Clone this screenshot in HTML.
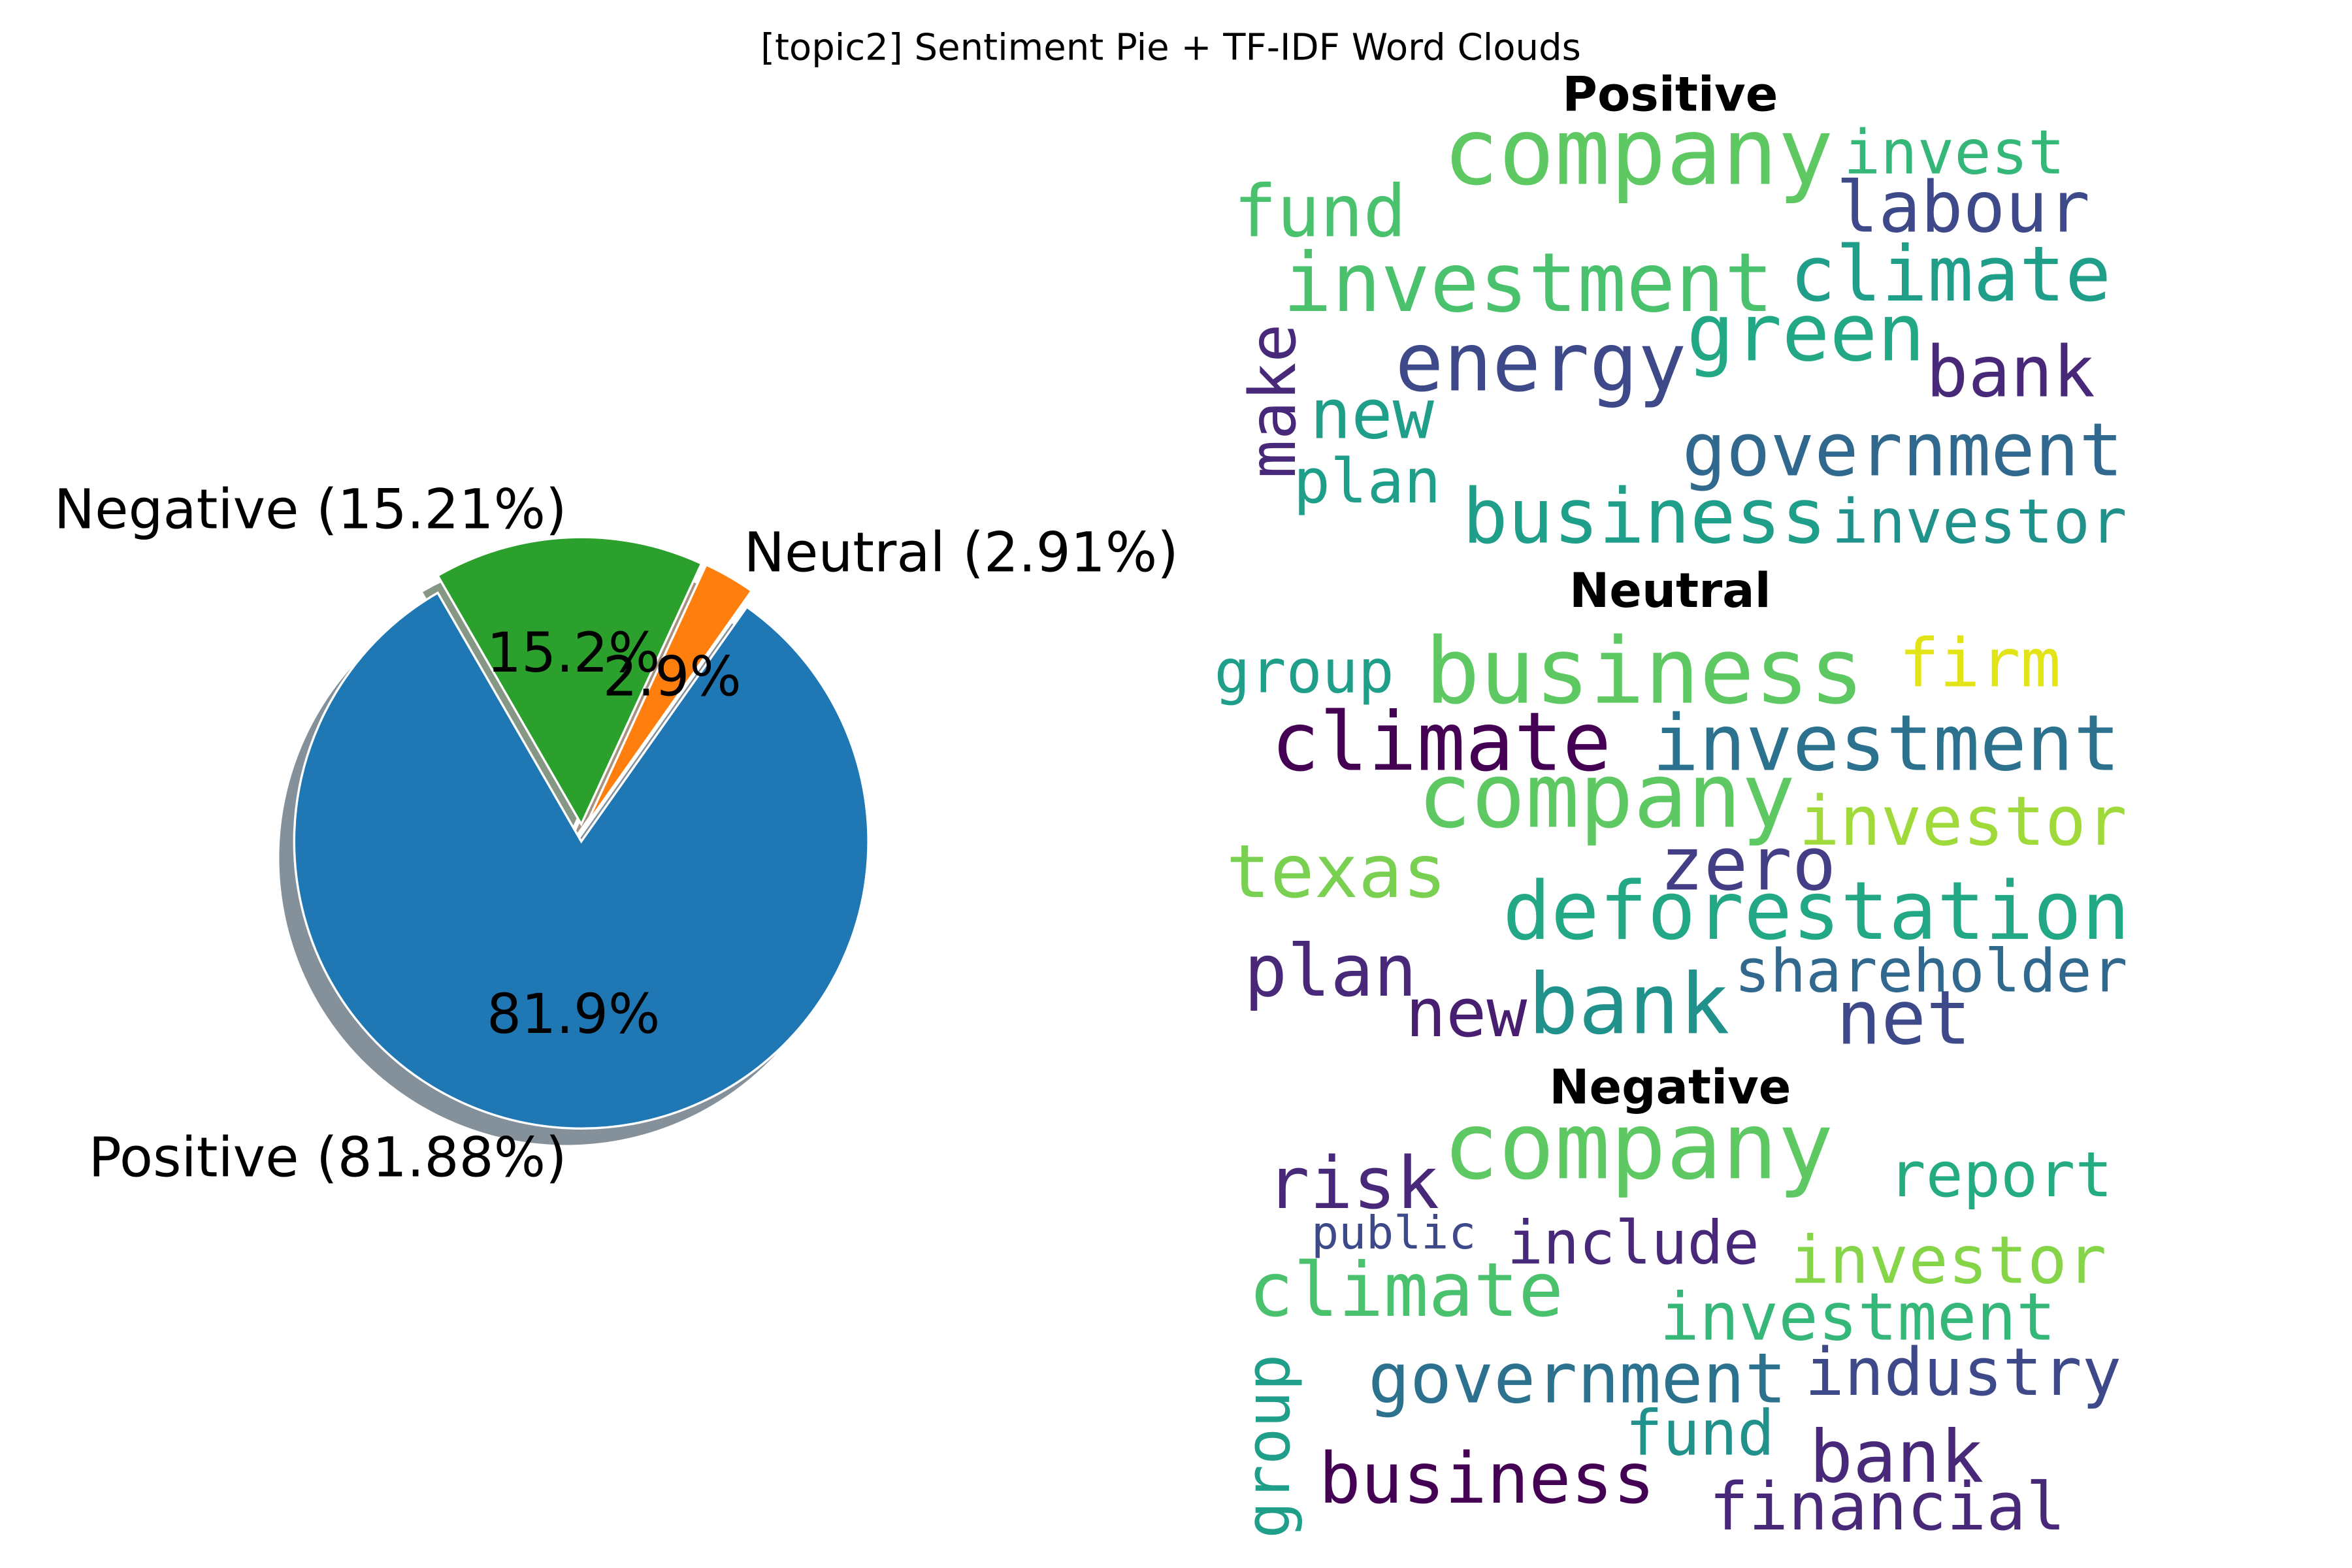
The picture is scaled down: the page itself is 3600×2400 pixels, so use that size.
<!DOCTYPE html>
<html><head><meta charset="utf-8"><style>
html,body{margin:0;padding:0;background:#fff}
svg{display:block}
.t{font-family:"DejaVu Sans","Liberation Sans",sans-serif}
.w{font-family:"DejaVu Sans Mono","Liberation Mono",monospace}
</style></head><body>
<svg id="fig" width="3600" height="2400" viewBox="0 0 1573 1048.7" xmlns="http://www.w3.org/2000/svg">
<rect width="1573" height="1048.7" fill="#fff"/>
<text class="t" x="783" y="40" font-size="24.5" text-anchor="middle">[topic2] Sentiment Pie + TF-IDF Word Clouds</text>
<g id="pie"></g>
<g id="clouds">
<text class="t" x="1117" y="74" font-size="32" font-weight="bold" text-anchor="middle">Positive</text>
<text class="t" x="1117" y="406" font-size="32" font-weight="bold" text-anchor="middle">Neutral</text>
<text class="t" x="1117" y="738" font-size="32" font-weight="bold" text-anchor="middle">Negative</text>
</g>
</svg>
<script>
const labels = ["Positive", "Neutral", "Negative"];
const values = [81.88, 2.91, 15.21];
const colors = ["#1f77b4", "#ff7f0e", "#2ca02c"];
const shadowColors = ["#092436", "#4c2604", "#0d300d"];

// word clouds: [word, x, baselineY, fontSize, color, rotated]
const posWords = [
 ["company",965,123,62,"#5ec962",0],["invest",1233,116,41,"#35b779",0],["fund",825,158,48,"#4ac16d",0],
 ["labour",1228,155,47,"#3e4989",0],["investment",858,208,54.5,"#4ac16d",0],["climate",1197,201,51,"#1f9e89",0],
 ["green",1128,241,53,"#22a884",0],["energy",933,261,54,"#3e4989",0],["bank",1288,265,47,"#482878",0],
 ["make",866,320,43,"#482878",1],["new",876,293,46,"#1f9e89",0],["government",1125,318,49,"#31688e",0],
 ["plan",865,336,41,"#1f9e89",0],["business",978,363,50.6,"#1f9e89",0],["investor",1225,363,41,"#21918c",0]];
const neuWords = [
 ["group",812,463,40,"#1f9e89",0],["business",953,470,61,"#5ec962",0],["firm",1270,459,45,"#e3e418",0],
 ["climate",850,515,54,"#440154",0],["investment",1105,515,52,"#2c728e",0],["company",948,553,60,"#5ec962",0],
 ["investor",1203,565,45.6,"#9fda3a",0],["texas",820,600,49,"#7ad151",0],["zero",1110,595,49,"#433e85",0],
 ["deforestation",1005,628,53.6,"#22a884",0],["plan",832,666,48,"#482878",0],["shareholder",1160,663,39.7,"#31688e",0],
 ["new",940,693,45,"#481f70",0],["bank",1022,691,56,"#21918c",0],["net",1228,698,50,"#3e4989",0]];
const negWords = [
 ["company",965,788,62,"#5ec962",0],["risk",847,808,48,"#482878",0],["report",1263,800,41.5,"#25ab82",0],
 ["public",877,835,30.5,"#3e4989",0],["include",1008,845,40,"#482878",0],["investor",1197,858,44,"#86d549",0],
 ["climate",835,880,50,"#4ac16d",0],["investment",1110,896,44,"#35b779",0],["group",862,1029,41,"#1f9e89",1],
 ["government",915,938,46.5,"#2c728e",0],["industry",1207,933,44,"#3e4989",0],["fund",1087,973,41.5,"#21918c",0],
 ["bank",1210,991,48.5,"#482878",0],["business",882,1005,46.7,"#440154",0],["financial",1143,1023,44,"#482878",0]];

const NS = "http://www.w3.org/2000/svg";
const cx = 389, cy = 557, R = 192, startAngle = 120, explode = 0.03;
const shX = -10, shY = 11;
const pie = document.getElementById("pie");
const total = values.reduce((a,b)=>a+b,0);
function pt(a, r, ox, oy){ const t=a*Math.PI/180; return [ox + r*Math.cos(t), oy - r*Math.sin(t)]; }
function wedgePath(a0,a1,ox,oy){
  const p0=pt(a0,R,ox,oy), p1=pt(a1,R,ox,oy), large=(a1-a0)>180?1:0;
  return `M${ox},${oy} L${p0[0]},${p0[1]} A${R},${R} 0 ${large} 0 ${p1[0]},${p1[1]} Z`;
}
let slices=[]; let a=startAngle;
values.forEach((v,i)=>{ const sweep=v/total*360; slices.push([a,a+sweep]); a+=sweep; });
slices.forEach(([a0,a1],i)=>{
  const mid=(a0+a1)/2*Math.PI/180, ox=cx+explode*R*Math.cos(mid), oy=cy-explode*R*Math.sin(mid);
  const p=document.createElementNS(NS,"path");
  p.setAttribute("d",wedgePath(a0,a1,ox+shX,oy+shY));
  p.setAttribute("fill",shadowColors[i]); p.setAttribute("fill-opacity","0.5");
  
  
  pie.appendChild(p);
});
slices.forEach(([a0,a1],i)=>{
  const mid=(a0+a1)/2*Math.PI/180;
  const ox=cx+explode*R*Math.cos(mid), oy=cy-explode*R*Math.sin(mid);
  const p=document.createElementNS(NS,"path");
  p.setAttribute("d",wedgePath(a0,a1,ox,oy));
  p.setAttribute("fill",colors[i]); p.setAttribute("stroke","#fff"); p.setAttribute("stroke-width","1.5");
  
  
  pie.appendChild(p);
});
slices.forEach(([a0,a1],i)=>{
  const midDeg=(a0+a1)/2, mid=midDeg*Math.PI/180;
  const ox=cx+explode*R*Math.cos(mid), oy=cy-explode*R*Math.sin(mid);
  const lp=pt(midDeg,1.1*R,ox,oy);
  const lt=document.createElementNS(NS,"text");
  lt.setAttribute("class","t"); lt.setAttribute("x",lp[0]); lt.setAttribute("y",lp[1]+13);
  lt.setAttribute("font-size","36.5"); lt.setAttribute("text-anchor",Math.cos(mid)<0?"end":"start");
  lt.textContent=labels[i]+" ("+values[i].toFixed(2)+"%)";
  
  
  pie.appendChild(lt);
  const pp=pt(midDeg,0.6*R,ox,oy);
  const pt2=document.createElementNS(NS,"text");
  pt2.setAttribute("class","t"); pt2.setAttribute("x",pp[0]); pt2.setAttribute("y",pp[1]+13);
  pt2.setAttribute("font-size","36.5"); pt2.setAttribute("text-anchor","middle");
  pt2.textContent=(values[i]/total*100).toFixed(1)+"%";
  
  
  pie.appendChild(pt2);
});
const clouds=document.getElementById("clouds");
[[posWords,"positive"],[neuWords,"neutral"],[negWords,"negative"]].forEach(([arr,nm])=>{
  arr.forEach(w=>{
    const t=document.createElementNS(NS,"text");
    t.setAttribute("class","w"); t.setAttribute("font-size",w[3]); t.setAttribute("fill",w[4]);
    t.setAttribute("textLength",(w[0].length*0.602*w[3]).toFixed(1));
    t.setAttribute("lengthAdjust","spacingAndGlyphs");
    if(w[5]){ t.setAttribute("transform",`translate(${w[1]},${w[2]}) rotate(-90)`); t.setAttribute("x",0); t.setAttribute("y",0); }
    else { t.setAttribute("x",w[1]); t.setAttribute("y",w[2]); }
    t.textContent=w[0];
    
    
    clouds.appendChild(t);
  });
});
</script>
</body></html>
